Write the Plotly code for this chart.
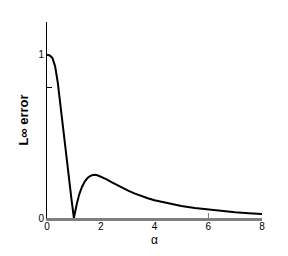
import plotly.graph_objects as go

alpha = [0, 0.1, 0.2, 0.3, 0.4, 0.5, 0.6, 0.7, 0.8, 0.9, 1.0, 1.1, 1.2, 1.3, 1.4, 1.5,
         1.6, 1.7, 1.8, 1.9, 2.0, 2.2, 2.4, 2.6, 2.8, 3.0, 3.25, 3.5, 3.75, 4.0, 4.5,
         5.0, 5.5, 6.0, 6.5, 7.0, 7.5, 8.0]
err = [1.0, 0.995, 0.98, 0.93, 0.83, 0.68, 0.54, 0.40, 0.27, 0.13, 0.0, 0.08, 0.145,
       0.19, 0.222, 0.243, 0.257, 0.263, 0.264, 0.26, 0.254, 0.238, 0.22, 0.202, 0.185,
       0.169, 0.151, 0.135, 0.121, 0.109, 0.089, 0.073, 0.061, 0.051, 0.042, 0.035,
       0.029, 0.024]

x_tickvals = [0, 2, 4, 6, 8]
x_ticktext = ["0", "2", "4", "6", "8"]
x_marks = [6, 8]
y_tickvals = [0, 1]
y_ticktext = ["0", "1"]
y_marks = [0.8, 1.2]

FONT = "Arial, Liberation Sans, sans-serif"

fig = go.Figure()
fig.add_trace(go.Scatter(x=alpha, y=err, mode="lines",
                         line=dict(color="black", width=2), hoverinfo="skip",
                         showlegend=False))
# helper trace to show the secondary (tick-only) axes
fig.add_trace(go.Scatter(x=[None], y=[None], xaxis="x2", yaxis="y2",
                         mode="lines", showlegend=False, hoverinfo="skip"))

fig.update_layout(
    width=280, height=248,
    margin=dict(l=39, r=26, t=14, b=38),
    paper_bgcolor="white", plot_bgcolor="white",
    font=dict(family=FONT, color="black", size=10),
    xaxis=dict(range=[0, 8], tickvals=x_tickvals, ticktext=x_ticktext,
               ticks="", showgrid=False, zeroline=False,
               showline=True, linecolor="#808080", linewidth=2.5,
               tickfont=dict(size=10), ticklabelstandoff=-3),
    yaxis=dict(range=[0, 1.2], tickvals=y_tickvals, ticktext=y_ticktext,
               ticks="", showgrid=False, zeroline=False,
               showline=True, linecolor="black", linewidth=1,
               tickfont=dict(size=10),
               title=dict(text="<b>L∞ error</b>", font=dict(size=13), standoff=6)),
    xaxis2=dict(range=[0, 8], overlaying="x", tickvals=x_marks, ticks="inside",
                ticklen=5, tickcolor="#808080", tickwidth=1, showticklabels=False,
                showgrid=False, zeroline=False, showline=False),
    yaxis2=dict(range=[0, 1.2], overlaying="y", tickvals=y_marks, ticks="inside",
                ticklen=5, tickcolor="black", tickwidth=1, showticklabels=False,
                showgrid=False, zeroline=False, showline=False),
    annotations=[dict(text="α", xref="paper", yref="paper", x=0.5, y=0,
                      xanchor="center", yanchor="top", yshift=-13, showarrow=False,
                      font=dict(size=12, family=FONT, color="black"))],
)

fig.write_html("out.html")
